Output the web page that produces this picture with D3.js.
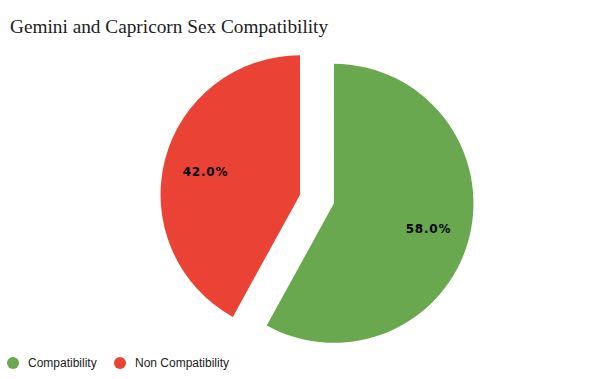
<!DOCTYPE html>
<html><head><meta charset="utf-8">
<script src="https://cdn.jsdelivr.net/npm/d3@7/dist/d3.min.js"></script>
<style>body{margin:0;background:#fff;} svg{display:block;}</style>
</head><body>
<svg id="c" width="600" height="379"></svg>
<script>
const categories = ["Compatibility", "Non Compatibility"];
const values = [58, 42];
const colors = ["#6aa84f", "#ea4335"];
const title = "Gemini and Capricorn Sex Compatibility";

const svg = d3.select("#c");
svg.append("text").attr("x", 10).attr("y", 33)
  .attr("font-family", "Liberation Serif, serif").attr("font-size", 19.3)
  .attr("fill", "#222").text(title);

const cx = 317, cy = 199, r = 139.5, explode = 17.5;
const pie = d3.pie().sort(null).value(d => d)(values);
const arc = d3.arc().innerRadius(0).outerRadius(r);
const total = d3.sum(values);

const g = svg.append("g").attr("transform", `translate(${cx},${cy})`);
pie.forEach((p, i) => {
  const mid = (p.startAngle + p.endAngle) / 2;
  const dx = Math.sin(mid) * explode, dy = -Math.cos(mid) * explode;
  const sg = g.append("g").attr("transform", `translate(${dx},${dy})`);
  sg.append("path").attr("d", arc(p)).attr("fill", colors[i]);
  const lr = r * 0.7;
  sg.append("text").attr("x", Math.sin(mid) * lr).attr("y", -Math.cos(mid) * lr + 5.5)
    .attr("text-anchor", "middle").attr("font-family", "DejaVu Sans, sans-serif")
    .attr("font-weight", "bold").attr("font-size", 12).attr("letter-spacing", 0.8)
    .attr("fill", "#000").text((p.value / total * 100).toFixed(1) + "%");
});

const legendX = [13, 120];
categories.forEach((c, i) => {
  svg.append("circle").attr("cx", legendX[i]).attr("cy", 363).attr("r", 6).attr("fill", colors[i]);
  svg.append("text").attr("x", legendX[i] + 15).attr("y", 367)
    .attr("font-family", "Liberation Sans, Arial, sans-serif").attr("font-size", 12)
    .attr("fill", "#222").text(c);
});
</script>
</body></html>
